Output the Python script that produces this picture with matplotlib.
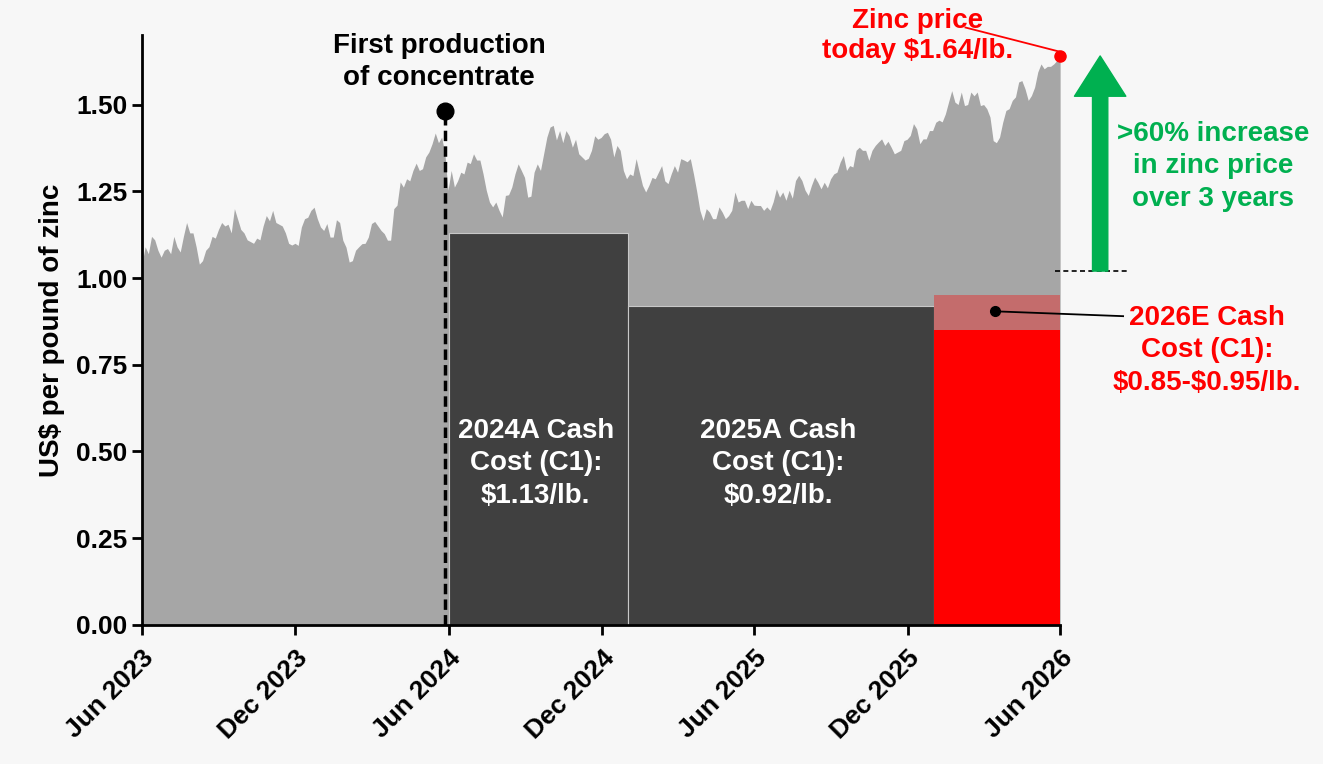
import numpy as np
import pandas as pd
import matplotlib
matplotlib.use("Agg")
import matplotlib.pyplot as plt
import matplotlib.dates as mdates
import matplotlib.transforms as mtransforms

plt.rcParams['font.family'] = ['Liberation Sans', 'DejaVu Sans']
plt.rcParams['font.weight'] = 'bold'
plt.rcParams['axes.labelweight'] = 'bold'

# zinc price, US$/lb, Jun 2023 -> Jun 2026
price = [
    1.04, 1.09, 1.07, 1.12, 1.11, 1.08, 1.06, 1.08, 1.085, 1.07, 1.12, 1.09, 1.075, 1.12, 1.16, 1.13,
    1.13, 1.09, 1.04, 1.05, 1.08, 1.09, 1.12, 1.115, 1.14, 1.16, 1.15, 1.155, 1.13, 1.20, 1.17, 1.14,
    1.13, 1.11, 1.105, 1.10, 1.115, 1.11, 1.15, 1.18, 1.165, 1.195, 1.16, 1.155, 1.15, 1.13, 1.10, 1.095,
    1.10, 1.094, 1.147, 1.171, 1.175, 1.195, 1.204, 1.171, 1.147, 1.137, 1.157, 1.118, 1.118, 1.168, 1.16, 1.109,
    1.089, 1.046, 1.05, 1.08, 1.09, 1.099, 1.10, 1.118, 1.157, 1.163, 1.15, 1.137, 1.128, 1.109, 1.109, 1.20,
    1.21, 1.277, 1.262, 1.286, 1.28, 1.31, 1.331, 1.31, 1.315, 1.349, 1.363, 1.387, 1.418, 1.39, 1.406, 1.36,
    1.253, 1.31, 1.262, 1.28, 1.305, 1.30, 1.334, 1.33, 1.358, 1.34, 1.34, 1.30, 1.253, 1.219, 1.205, 1.219,
    1.195, 1.176, 1.238, 1.24, 1.262, 1.30, 1.329, 1.31, 1.29, 1.233, 1.236, 1.305, 1.329, 1.31, 1.358, 1.406,
    1.435, 1.44, 1.398, 1.425, 1.39, 1.425, 1.41, 1.377, 1.40, 1.358, 1.349, 1.34, 1.345, 1.368, 1.41, 1.40,
    1.405, 1.416,
    1.42, 1.40, 1.349, 1.382, 1.368, 1.31, 1.286, 1.30, 1.295, 1.344, 1.305, 1.267, 1.248, 1.267, 1.29, 1.286,
    1.305, 1.324, 1.28, 1.272, 1.30, 1.324, 1.305, 1.344, 1.34, 1.335, 1.344, 1.30, 1.25, 1.195, 1.166, 1.20,
    1.19, 1.171, 1.171, 1.205, 1.19, 1.171, 1.18, 1.195, 1.248, 1.219, 1.224, 1.224, 1.20, 1.224, 1.21, 1.209,
    1.209, 1.195, 1.205, 1.195, 1.22, 1.257, 1.233, 1.248, 1.224, 1.253, 1.23, 1.281, 1.296, 1.281, 1.253, 1.238,
    1.267, 1.291, 1.276, 1.257, 1.276, 1.26, 1.286, 1.30, 1.305, 1.334, 1.353, 1.31, 1.324, 1.32, 1.368, 1.377,
    1.368, 1.368, 1.339, 1.368, 1.382, 1.392, 1.401, 1.382, 1.394, 1.377, 1.358, 1.363, 1.368, 1.396, 1.40, 1.411,
    1.445,
    1.43, 1.387, 1.401, 1.401, 1.425, 1.425, 1.449, 1.455, 1.45, 1.473, 1.507, 1.54, 1.507, 1.50, 1.536, 1.497,
    1.50, 1.536, 1.525, 1.536, 1.497, 1.50, 1.488, 1.464, 1.396, 1.39, 1.406, 1.449, 1.483, 1.488, 1.512, 1.522,
    1.565, 1.569, 1.545, 1.512, 1.526, 1.55, 1.594, 1.617, 1.603, 1.61, 1.61, 1.617, 1.627, 1.64,
]
dates = pd.date_range("2023-06-01", "2026-06-01", periods=len(price))

# cash cost blocks
cost_starts = ["2024-06-01", "2025-01-01"]
cost_ends = ["2025-01-01", "2026-01-01"]
cost_values = [1.13, 0.92]
cost_labels = ["2024A Cash\nCost (C1):\n\\$1.13/lb.", "2025A Cash\nCost (C1):\n\\$0.92/lb."]
guide_start, guide_end = "2026-01-01", "2026-06-01"
guide_low, guide_high = 0.85, 0.95

first_prod_date = "2024-05-28"
first_prod_level = 1.48
price_today = 1.64
price_3y_ago = 1.02

FS = 20
LS = 1.33

bg = "#F7F7F7"
fig = plt.figure(figsize=(13.23, 7.64), dpi=100, facecolor=bg)
ax = fig.add_axes([0.1073, 0.182, 0.694, 0.772], facecolor=bg)
ax.set_xlim(pd.Timestamp("2023-06-01"), pd.Timestamp("2026-06-01"))
ax.set_ylim(0, 1.70)

ax.fill_between(dates, price, 0, color="#A6A6A6", lw=0, zorder=1)

for s, e, v, lab in zip(cost_starts, cost_ends, cost_values, cost_labels):
    s, e = pd.Timestamp(s), pd.Timestamp(e)
    ax.bar(s, v, width=(e - s).days, align="edge", color="#404040",
           edgecolor="#C8C8C8", linewidth=0.8, zorder=2)
    ax.text(s + (e - s) / 2 - pd.Timedelta(days=3), 0.466, lab, color="white", fontsize=FS,
            ha="center", va="center", linespacing=LS, zorder=5)

gs, ge = pd.Timestamp(guide_start), pd.Timestamp(guide_end)
ax.bar(gs, guide_low, width=(ge - gs).days, align="edge", color="#FF0000", lw=0, zorder=2)
ax.bar(gs, guide_high - guide_low, bottom=guide_low, width=(ge - gs).days, align="edge",
       color="#C46C6C", lw=0, zorder=2)

# first production marker
fp = pd.Timestamp(first_prod_date)
ax.plot([fp, fp], [0, first_prod_level], color="black", lw=2.5, ls=(0, (3, 1.5)), zorder=4)
ax.plot(fp, first_prod_level, "o", color="black", ms=12, zorder=5, clip_on=False)
ax.text(pd.Timestamp("2024-05-21"), 1.623, "First production\nof concentrate", fontsize=FS,
        ha="center", va="center", linespacing=LS)

# zinc price today
end = dates[-1]
ax.plot(end, price_today, "o", color="#FF0000", ms=8, zorder=6, clip_on=False)
ax.plot([pd.Timestamp("2026-02-08"), end], [1.722, price_today + 0.012], color="#FF0000", lw=1.3,
        clip_on=False, zorder=6)
ax.text(pd.Timestamp("2025-12-13"), 1.697, "Zinc price\ntoday \\$1.64/lb.", color="#FF0000",
        fontsize=FS, ha="center", va="center", linespacing=1.2)

# green arrow and baseline outside axes
tr = mtransforms.blended_transform_factory(ax.transAxes, ax.transData)
ax.plot([0.9946, 1.074], [price_3y_ago, price_3y_ago], color="black", lw=1.2, ls=(0, (3, 2)),
        transform=tr, clip_on=False)
ax.annotate("", xy=(1.0436, price_today), xytext=(1.0436, price_3y_ago),
            xycoords=tr, textcoords=tr,
            arrowprops=dict(arrowstyle="simple,head_length=1.45,head_width=1.85,tail_width=0.55",
                            mutation_scale=20, color="#00B050", shrinkA=0, shrinkB=0))
ax.text(1.1667, 1.322, ">60% increase\nin zinc price\nover 3 years", color="#00B050", fontsize=FS,
        ha="center", va="center", linespacing=LS, transform=tr)

# 2026E guidance callout
dot_date = pd.Timestamp("2026-03-15")
ax.plot(dot_date, 0.904, "o", color="black", ms=7, zorder=6)
x_dot = ax.transAxes.inverted().transform(ax.transData.transform((mdates.date2num(dot_date), 0.904)))[0]
ax.plot([x_dot, 1.0686], [0.904, 0.890], color="black", lw=1.3, transform=tr, clip_on=False, zorder=6)
ax.text(1.160, 0.792, "2026E Cash\nCost (C1):\n\\$0.85-\\$0.95/lb.", color="#FF0000", fontsize=FS,
        ha="center", va="center", linespacing=LS, transform=tr)

ax.set_yticks(np.arange(0, 1.51, 0.25))
ax.yaxis.set_major_formatter(matplotlib.ticker.FormatStrFormatter("%.2f"))
ax.xaxis.set_major_locator(mdates.MonthLocator(bymonth=[6, 12], bymonthday=1))
ax.xaxis.set_major_formatter(mdates.DateFormatter("%b %Y"))
plt.setp(ax.get_xticklabels(), rotation=45, ha="right", rotation_mode="anchor")
ax.tick_params(axis="both", labelsize=19, width=2, length=7, direction="out")
ax.tick_params(axis="x", pad=8)
ax.set_ylabel("US$ per pound of zinc", fontsize=FS, labelpad=8)

for s in ["top", "right"]:
    ax.spines[s].set_visible(False)
for s in ["left", "bottom"]:
    ax.spines[s].set_linewidth(2)
    ax.spines[s].set_zorder(7)

fig.savefig("out.png", dpi=100, facecolor=bg)
